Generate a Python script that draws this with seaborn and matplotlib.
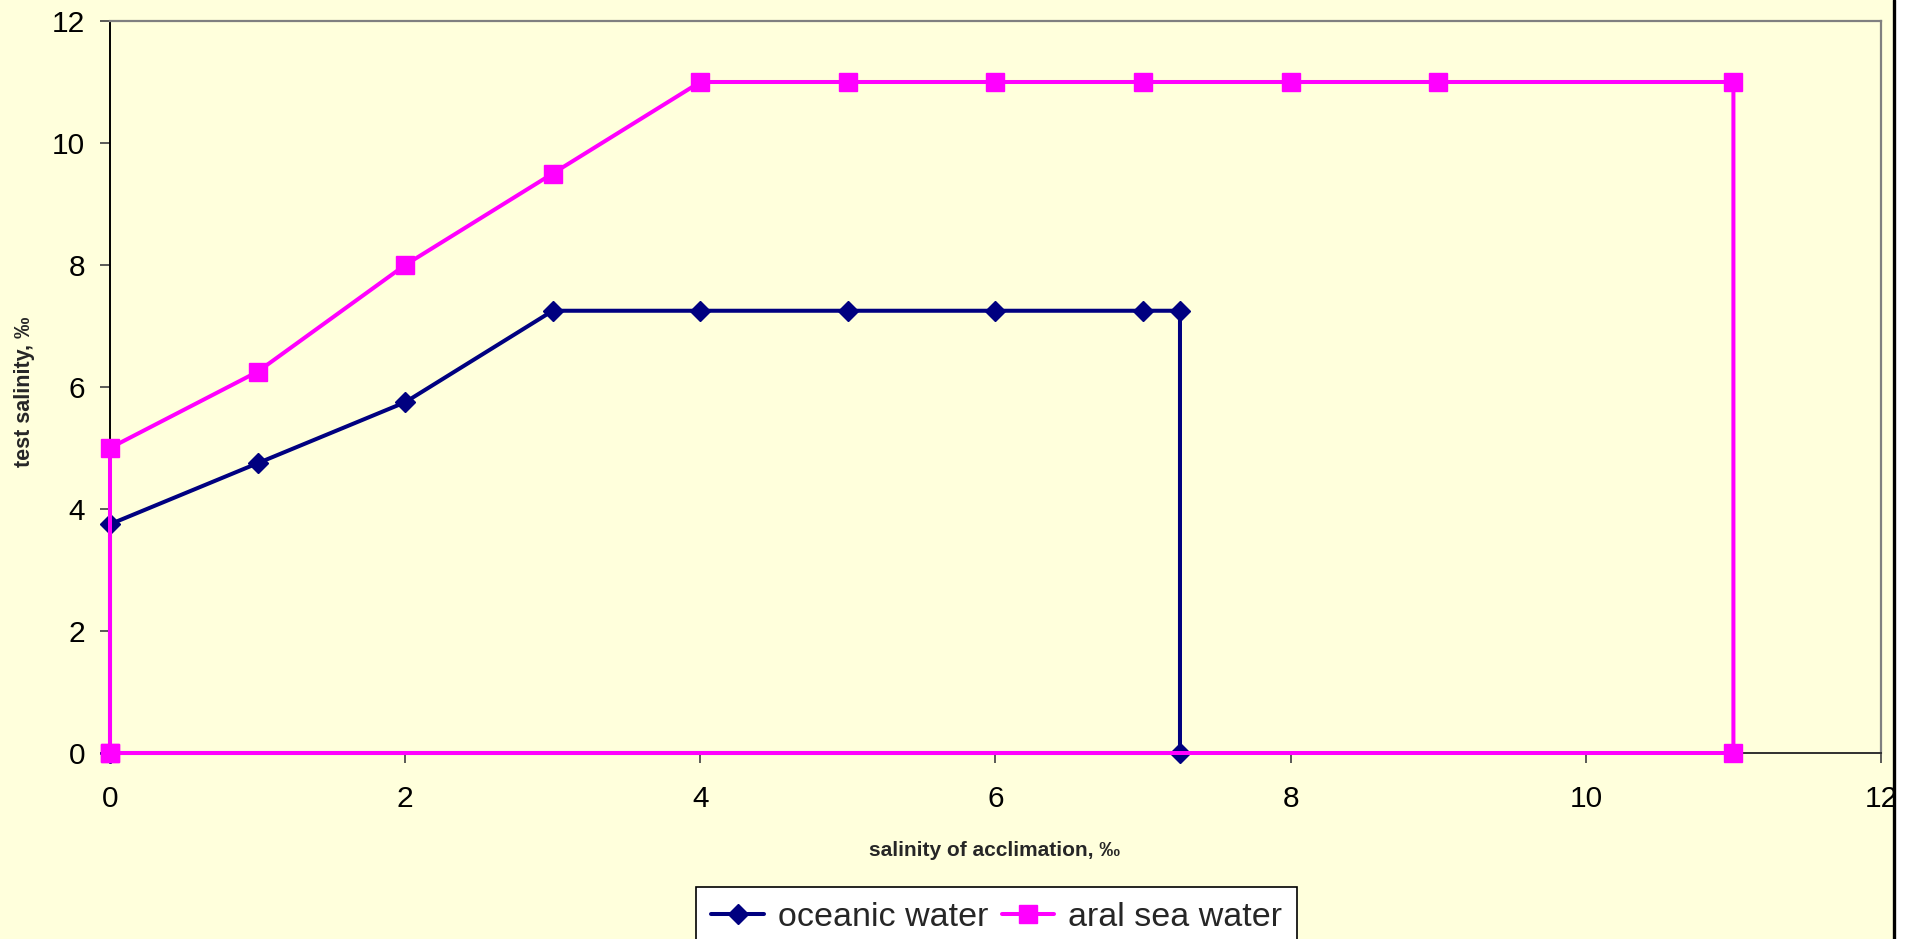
import matplotlib
matplotlib.use("Agg")
import matplotlib.pyplot as plt
import seaborn as sns
from matplotlib.lines import Line2D
from matplotlib.patches import Rectangle
from matplotlib import font_manager as fm

# ---- data ----
ocean_x = [0, 0, 1, 2, 3, 4, 5, 6, 7, 7.25, 7.25, 0]
ocean_y = [0, 3.75, 4.75, 5.75, 7.25, 7.25, 7.25, 7.25, 7.25, 7.25, 0, 0]
aral_x = [0, 0, 1, 2, 3, 4, 5, 6, 7, 8, 9, 11, 11, 0]
aral_y = [0, 5, 6.25, 8, 9.5, 11, 11, 11, 11, 11, 11, 11, 0, 0]
series_names = ["oceanic water", "aral sea water"]
xticks = [0, 2, 4, 6, 8, 10, 12]
yticks = [0, 2, 4, 6, 8, 10, 12]
x_label = "salinity of acclimation, ‰"
y_label = "test salinity, ‰"

BG = "#FFFFDC"
NAVY = "#000080"
MAG = "#FF00FF"
LW = 2.9

sns.set_theme(style="white")
plt.rcParams["font.family"] = ["Liberation Sans", "DejaVu Sans"]

# a narrow face for the legend if one is installed, otherwise plain Liberation Sans
narrow_path = None
for f in fm.fontManager.ttflist:
    if "liberationsansnarrow-regular" in f.fname.lower():
        narrow_path = f.fname
        break
if narrow_path is not None:
    leg_prop = fm.FontProperties(fname=narrow_path, size=29)
else:
    leg_prop = fm.FontProperties(family=["Liberation Sans", "DejaVu Sans"], size=24.5)

W, H = 1916, 939
fig = plt.figure(figsize=(W / 100, H / 100), dpi=100, facecolor=BG)
ax = fig.add_axes([110 / W, 1 - 753 / H, (1881 - 110) / W, (753 - 21) / H])
ax.set_facecolor(BG)

sns.lineplot(x=ocean_x, y=ocean_y, sort=False, estimator=None, ax=ax,
             color=NAVY, linewidth=LW, marker="D", legend=False)
sns.lineplot(x=aral_x, y=aral_y, sort=False, estimator=None, ax=ax,
             color=MAG, linewidth=LW, marker="s", legend=False)
styles = [(NAVY, "D", 10.0), (MAG, "s", 13.0)]
for line, (c, m, ms) in zip(ax.lines, styles):
    line.set_linewidth(LW)
    line.set_color(c)
    line.set_marker(m)
    line.set_markersize(ms)
    line.set_markerfacecolor(c)
    line.set_markeredgecolor(c)
    line.set_markeredgewidth(1)
    line.set_clip_on(False)
    line.set_zorder(3)

ax.set_xlim(0, 12)
ax.set_ylim(0, 12)
ax.set_xticks(xticks)
ax.set_yticks(yticks)
ax.set_xticklabels([str(t) for t in xticks])
ax.set_yticklabels([str(t) for t in yticks])
ax.tick_params(axis="both", which="major", direction="out", length=7,
               width=1.2, color="#404040", labelsize=21.5, labelcolor="black")
ax.tick_params(axis="x", pad=16, bottom=True)
ax.tick_params(axis="y", pad=11, left=True)
for s in ["top", "right"]:
    ax.spines[s].set_color("#808080")
    ax.spines[s].set_linewidth(1.6)
ax.spines["left"].set_color("black")
ax.spines["left"].set_linewidth(1.4)
ax.spines["bottom"].set_color("#303030")
ax.spines["bottom"].set_linewidth(1.4)
ax.grid(False)

fig.text(995 / W, 1 - 850 / H, x_label, ha="center", va="center",
         fontsize=15, fontweight="bold")
fig.text(25 / W, 1 - 392 / H, y_label, ha="center", va="center",
         rotation=90, fontsize=15.5, fontweight="bold")

handles = [
    Line2D([], [], color=NAVY, lw=LW, marker="D", markersize=10.0,
           markeredgecolor=NAVY, markerfacecolor=NAVY),
    Line2D([], [], color=MAG, lw=LW, marker="s", markersize=13.0,
           markeredgecolor=MAG, markerfacecolor=MAG),
]
leg = fig.legend(handles, series_names, loc="upper left",
                 bbox_to_anchor=(696 / W, 1 - 887 / H), ncol=2, frameon=True,
                 fancybox=False, shadow=False, prop=leg_prop,
                 handlelength=1.55, handletextpad=0.4, columnspacing=0.4,
                 borderpad=0.45, borderaxespad=0)
leg.get_frame().set_facecolor("white")
leg.get_frame().set_edgecolor("black")
leg.get_frame().set_linewidth(1.2)
leg.get_frame().set_alpha(1)

# right border of the chart area
fig.add_artist(Rectangle((1895 / W, 0), (W - 1895) / W, 1, transform=fig.transFigure,
                         facecolor="white", edgecolor="none", zorder=0))
fig.add_artist(Line2D([1893.5 / W, 1893.5 / W], [0, 1], transform=fig.transFigure,
                      color="black", lw=2.4))

fig.savefig("out.png", dpi=100, facecolor=BG)
